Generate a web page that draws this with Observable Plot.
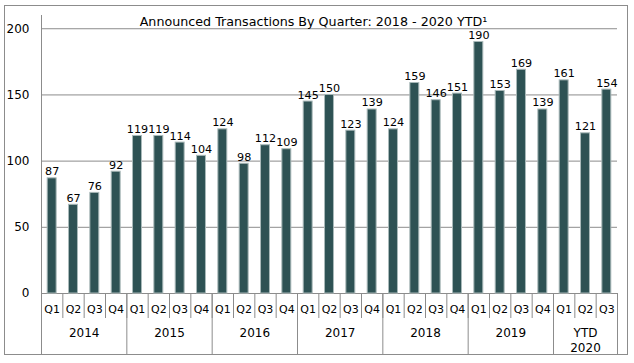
<!DOCTYPE html>
<html>
<head>
<meta charset="utf-8">
<script src="https://cdn.jsdelivr.net/npm/d3@7"></script>
<script src="https://cdn.jsdelivr.net/npm/@observablehq/plot@0.6"></script>
<style>
  html, body { margin: 0; padding: 0; background: #fff; }
  svg { display: block; }
</style>
</head>
<body>
<div id="chart"></div>
<script>
const title = "Announced Transactions By Quarter: 2018 - 2020 YTD\u00B9";
const yearLabels = ["2014", "2015", "2016", "2017", "2018", "2019", "YTD\n2020"];
const quartersPerYear = [4, 4, 4, 4, 4, 4, 3];
const quarterNames = ["Q1", "Q2", "Q3", "Q4"];
const values = [87, 67, 76, 92, 119, 119, 114, 104, 124, 98, 112, 109, 145, 150, 123, 139, 124, 159, 146, 151, 190, 153, 169, 139, 161, 121, 154];
const yTicks = [0, 50, 100, 150, 200];

// Build rows
const rows = [];
const groups = [];
let idx = 0;
yearLabels.forEach((yl, g) => {
  const start = idx;
  for (let q = 0; q < quartersPerYear[g]; q++) {
    rows.push({i: idx, q: quarterNames[q], year: yl, value: values[idx]});
    idx++;
  }
  groups.push({label: yl, start, end: idx, mid: (start + idx) / 2});
});
const n = rows.length;
const boundaries = d3.range(0, n + 1);
const groupBounds = [0, ...groups.map(g => g.end)];

const half = 0.21;
const font = "DejaVu Sans, Verdana, sans-serif";

const chart = Plot.plot({
  width: 634,
  height: 363,
  marginLeft: 41,
  marginRight: 17,
  marginTop: 15,
  marginBottom: 70,
  style: {fontFamily: font, fontSize: "11px", color: "#000", background: "#fff"},
  x: {type: "linear", domain: [0, n], axis: null},
  y: {domain: [0, 210], axis: null},
  marks: [
    Plot.ruleY(yTicks, {stroke: "#8c8c8c", strokeWidth: 1}),
    Plot.text(yTicks, {x: 0, y: d => d, text: d => String(d), textAnchor: "end", dx: -12, fontSize: 12, fill: "#000"}),
    Plot.rectY(rows, {x1: d => d.i + 0.5 - half, x2: d => d.i + 0.5 + half, y1: 0, y2: "value", fill: "#2e5254", stroke: "#a9b9b9", strokeWidth: 1}),
    Plot.text(rows, {x: d => d.i + 0.5, y: "value", text: d => String(d.value), lineAnchor: "bottom", dy: -3, fontSize: 11.2, fill: "#000"}),
    // axis line
    Plot.ruleX([0], {stroke: "#8c8c8c", strokeWidth: 1}),
    // quarter separators
    Plot.ruleX(boundaries, {x: d => d, y1: 0, y2: 0, insetBottom: -25, stroke: "#8c8c8c", strokeWidth: 1}),
    // year separators
    Plot.ruleX(groupBounds, {x: d => d, y1: 0, y2: 0, insetBottom: -62, stroke: "#8c8c8c", strokeWidth: 1}),
    Plot.text(rows, {x: d => d.i + 0.5, y: 0, text: "q", dy: 16, fontSize: 11, fill: "#000"}),
    Plot.text(groups, {x: "mid", y: 0, text: "label", lineAnchor: "top", dy: 33, lineHeight: 1.25, fontSize: 12, fill: "#000"}),
    Plot.text([title], {frameAnchor: "top", dx: -16, dy: 1.5, fontSize: 12.7, fill: "#000"})
  ]
});

d3.select(chart).insert("rect", ":first-child")
  .attr("x", 4.5).attr("y", 5.5).attr("width", 623).attr("height", 349)
  .attr("fill", "none").attr("stroke", "#8c8c8c");

document.getElementById("chart").appendChild(chart);
</script>
</body>
</html>
